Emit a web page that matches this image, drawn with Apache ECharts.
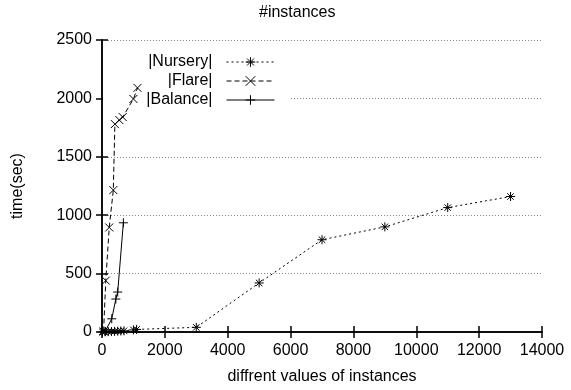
<!DOCTYPE html>
<html><head><meta charset="utf-8">
<script src="https://cdn.jsdelivr.net/npm/echarts@6/dist/echarts.min.js"></script>
<style>html,body{margin:0;padding:0;background:#fff}#c{width:571px;height:390px}</style>
</head><body><div id="c"></div>
<script>
const xTicks = [0, 2000, 4000, 6000, 8000, 10000, 12000, 14000];
const yTicks = [0, 500, 1000, 1500, 2000, 2500];
const seriesNames = ['|Nursery|', '|Flare|', '|Balance|'];
const nurseryX = [10, 100, 200, 300, 400, 500, 600, 700, 1000, 1100, 3000, 5000, 7000, 9000, 11000, 13000];
const nurseryY = [1, 2, 3, 4, 5, 7, 9, 10, 18, 22, 40, 420, 790, 900, 1065, 1160];
const flareX = [50, 120, 230, 360, 410, 550, 660, 1000, 1130];
const flareY = [5, 440, 895, 1215, 1780, 1815, 1840, 1995, 2090];
const balanceX = [100, 310, 440, 500, 680];
const balanceY = [5, 113, 282, 342, 935];

const FONT = 'Liberation Sans, Arial, Helvetica, sans-serif';
const zip = (xs, ys) => xs.map((x, i) => [x, ys[i]]);
const SYM_AST = 'path://M0,-1L0,1M-1,0L1,0M-0.72,-0.72L0.72,0.72M-0.72,0.72L0.72,-0.72';
const SYM_X = 'path://M-1,-1L1,1M-1,1L1,-1';
const SYM_P = 'path://M0,-1L0,1M-1,0L1,0';

const chart = echarts.init(document.getElementById('c'));
const markStyle = {color: 'rgba(0,0,0,0)', borderColor: '#000', borderWidth: 1};
const axisCommon = {
  axisLine: {show: true, lineStyle: {color: '#000', width: 1.5}},
  axisTick: {show: true, inside: true, length: 6, lineStyle: {color: '#000', width: 1.5}},
};
const plain = v => String(v);
function legendFor(name, top) {
  return {
    data: [name], right: 296, top: top, align: 'right', orient: 'vertical',
    itemWidth: 48, itemHeight: 12, padding: 0,
    lineStyle: {width: 1},
    itemStyle: {borderWidth: 1},
    textStyle: {fontFamily: FONT, fontSize: 16, color: '#000', padding: [0, 9, 0, 0]},
    selectedMode: false
  };
}
chart.setOption({
  animation: false,
  backgroundColor: '#fff',
  title: {text: '#instances', left: 254, top: 0, textStyle: {fontFamily: FONT, fontSize: 16, fontWeight: 'normal', color: '#000'}},
  grid: {left: 102, right: 29, top: 40, bottom: 58},
  graphic: [{type: 'rect', z: 1, shape: {x: 103, y: 41, width: 188, height: 65}, style: {fill: '#fff'}}],
  legend: [legendFor(seriesNames[0], 54), legendFor(seriesNames[1], 73), legendFor(seriesNames[2], 92)],
  xAxis: [
    Object.assign({type: 'value', min: xTicks[0], max: xTicks[xTicks.length - 1], interval: 2000,
      name: 'diffrent values of instances', nameLocation: 'middle', nameGap: 37,
      nameTextStyle: {fontFamily: FONT, fontSize: 16, color: '#000'},
      axisLabel: {fontFamily: FONT, fontSize: 16, color: '#000', margin: 11, formatter: plain},
      splitLine: {show: false}}, axisCommon),
    Object.assign({type: 'value', position: 'top', min: xTicks[0], max: xTicks[xTicks.length - 1], interval: 2000,
      axisLabel: {show: false}, splitLine: {show: false}}, axisCommon)
  ],
  yAxis: [
    Object.assign({type: 'value', min: yTicks[0], max: yTicks[yTicks.length - 1], interval: 500,
      name: 'time(sec)', nameLocation: 'middle', nameGap: 76, nameRotate: 90,
      nameTextStyle: {fontFamily: FONT, fontSize: 16, color: '#000'},
      axisLabel: {fontFamily: FONT, fontSize: 16, color: '#000', margin: 10, formatter: plain},
      splitLine: {show: true, lineStyle: {color: '#888', type: [1, 2], width: 1}}}, axisCommon),
    Object.assign({type: 'value', position: 'right', min: yTicks[0], max: yTicks[yTicks.length - 1], interval: 500,
      axisLabel: {show: false}, splitLine: {show: false}}, axisCommon)
  ],
  series: [
    {name: seriesNames[0], type: 'line', z: 5, data: zip(nurseryX, nurseryY), symbol: SYM_AST, symbolSize: 9,
      lineStyle: {color: '#000', width: 1, type: [2, 3]}, itemStyle: markStyle},
    {name: seriesNames[1], type: 'line', z: 5, data: zip(flareX, flareY), symbol: SYM_X, symbolSize: 8,
      lineStyle: {color: '#000', width: 1, type: [5, 3]}, itemStyle: markStyle},
    {name: seriesNames[2], type: 'line', z: 5, data: zip(balanceX, balanceY), symbol: SYM_P, symbolSize: 9,
      lineStyle: {color: '#000', width: 1, type: 'solid'}, itemStyle: markStyle}
  ]
});
</script></body></html>
